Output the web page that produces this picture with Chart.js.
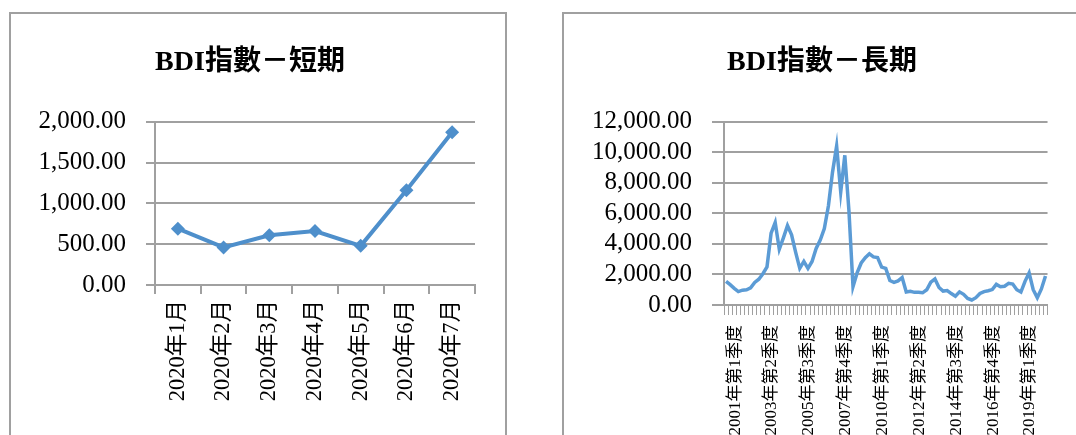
<!DOCTYPE html>
<html>
<head>
<meta charset="utf-8">
<script src="https://cdn.jsdelivr.net/npm/chart.js@4"></script>
<style>
  body { margin: 0; background: #fff; width: 1076px; height: 435px; overflow: hidden; position: relative; }
  .panel { position: absolute; top: 12px; height: 460px; border: 2px solid #a0a0a0; border-bottom: none; box-sizing: border-box; }
  #p1 { left: 9px; width: 498px; }
  #p2 { left: 562px; width: 600px; }
  .box { position: absolute; top: 13px; height: 422px; }
  #b1 { left: 10px; width: 495px; }
  #b2 { left: 563px; width: 513px; }
</style>
</head>
<body>
<div class="panel" id="p1"></div>
<div class="panel" id="p2"></div>
<div class="box" id="b1"><canvas id="graficoCurto"></canvas></div>
<div class="box" id="b2"><canvas id="graficoLongo"></canvas></div>
<script>
// short term: monthly 2020
const shortLabels = ['2020年1月', '2020年2月', '2020年3月', '2020年4月', '2020年5月', '2020年6月', '2020年7月'];
const shortValues = [690, 460, 610, 660, 480, 1160, 1870];

// long term: quarterly 2001Q1 - 2020Q3
const longYears = [2001, 2002, 2003, 2004, 2005, 2006, 2007, 2008, 2009, 2010,
                   2011, 2012, 2013, 2014, 2015, 2016, 2017, 2018, 2019, 2020];
const quarters = [1, 2, 3, 4];
const lastQuarter = 3;
const longValues = [
  1550, 1330, 1090, 880,
  970, 1000, 1120, 1480,
  1690, 2050, 2500, 4700,
  5400, 3650, 4400, 5200,
  4600, 3450, 2400, 2850,
  2400, 2850, 3700, 4250,
  5000, 6500, 8700, 10400,
  7400, 9800, 6200, 1200,
  2100, 2750, 3100, 3350,
  3150, 3100, 2480, 2400,
  1600, 1480, 1580, 1800,
  850, 900, 830, 840,
  800, 1000, 1500, 1700,
  1150, 910, 950, 750,
  580, 860, 700, 430,
  330, 480, 750, 880,
  930, 1010, 1350, 1200,
  1230, 1420, 1370, 1000,
  850, 1550, 2100, 1000,
  480, 1050, 1900
];
const labelEvery = 9;

const longLabels = [];
longYears.forEach(y => {
  quarters.forEach(q => {
    if (y === longYears[longYears.length - 1] && q > lastQuarter) return;
    longLabels.push(y + '年第' + q + '季度');
  });
});

const serif = "'Liberation Serif', 'Noto Sans CJK TC', serif";
const gridGray = '#a0a0a0';
const fmt = v => Number(v).toLocaleString('en-US', { minimumFractionDigits: 2, maximumFractionDigits: 2 });

function titulo(text) {
  return {
    display: true,
    text: text,
    color: '#000',
    font: { family: serif, size: 28, weight: 'bold', lineHeight: 1.2 },
    padding: { top: 32.7, bottom: 42.4 }
  };
}

document.addEventListener("DOMContentLoaded", function () {

  new Chart(
    document.getElementById('graficoCurto'),
    {
      type: 'line',
      data: {
        labels: shortLabels,
        datasets: [{
          data: shortValues,
          borderColor: '#4e8fcb',
          backgroundColor: '#4e8fcb',
          borderWidth: 4,
          tension: 0,
          pointStyle: 'rectRot',
          pointRadius: 7,
          pointBorderWidth: 0
        }]
      },
      options: {
        responsive: true,
        maintainAspectRatio: false,
        animation: false,
        layout: { padding: { left: 15, right: 30, top: 0, bottom: 0 } },
        plugins: {
          legend: { display: false },
          tooltip: { enabled: false },
          title: titulo('BDI指數－短期')
        },
        scales: {
          x: {
            offset: true,
            grid: { offset: true, drawOnChartArea: false, tickLength: 9, color: gridGray, lineWidth: 2 },
            border: { color: gridGray, width: 2 },
            ticks: { minRotation: 90, maxRotation: 90, autoSkip: false, padding: 6, color: '#000', font: { family: serif, size: 22.5 } },
            afterFit: s => { s.height = 150; }
          },
          y: {
            min: 0,
            max: 2000,
            ticks: { stepSize: 500, autoSkip: false, padding: 20, color: '#000', font: { family: serif, size: 25 }, callback: fmt },
            grid: { color: gridGray, lineWidth: 2, tickLength: 9 },
            border: { color: gridGray, width: 2 },
            afterFit: s => { s.width = 130; }
          }
        }
      }
    }
  );

  new Chart(
    document.getElementById('graficoLongo'),
    {
      type: 'line',
      data: {
        labels: longLabels,
        datasets: [{
          data: longValues,
          borderColor: '#5b9bd5',
          borderWidth: 3.5,
          tension: 0,
          pointRadius: 0
        }]
      },
      options: {
        responsive: true,
        maintainAspectRatio: false,
        animation: false,
        layout: { padding: { left: 22, right: 17, top: 0, bottom: 0 } },
        plugins: {
          legend: { display: false },
          tooltip: { enabled: false },
          title: titulo('BDI指數－長期')
        },
        scales: {
          x: {
            offset: true,
            grid: { offset: true, drawOnChartArea: false, tickLength: 10, color: gridGray, lineWidth: 1 },
            border: { color: gridGray, width: 2 },
            ticks: {
              minRotation: 90, maxRotation: 90, autoSkip: false, padding: 10, labelOffset: 9, color: '#000',
              font: { family: serif, size: 17 },
              callback: function (v, i) { return i % labelEvery === 0 ? this.getLabelForValue(v) : ''; }
            },
            afterFit: s => { s.height = 130; }
          },
          y: {
            min: 0,
            max: 12000,
            ticks: { stepSize: 2000, autoSkip: false, padding: 20, color: '#000', font: { family: serif, size: 25 }, callback: fmt },
            grid: { color: gridGray, lineWidth: 2, tickLength: 12 },
            border: { color: gridGray, width: 2 },
            afterFit: s => { s.width = 139; }
          }
        }
      }
    }
  );

});
</script>
</body>
</html>
